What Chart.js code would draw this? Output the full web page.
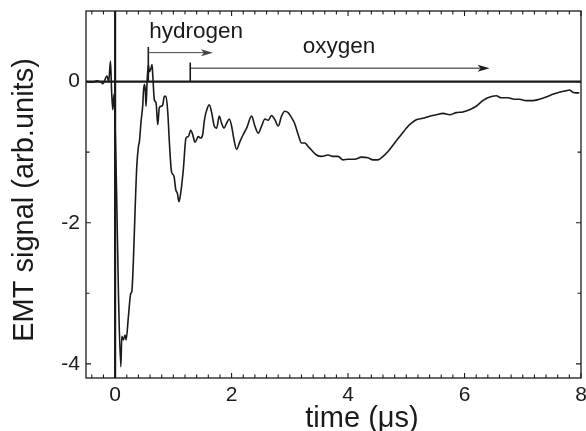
<!DOCTYPE html>
<html>
<head>
<meta charset="utf-8">
<script src="https://cdn.jsdelivr.net/npm/chart.js@4.4.1/dist/chart.umd.min.js"></script>
<style>
  html, body { margin: 0; padding: 0; background: #fff; }
  #wrap { width: 586px; height: 431px; }
</style>
</head>
<body>
<div id="wrap"><canvas id="emtChart"></canvas></div>
<script>
// EMT signal trace
const timeUs = [
  -0.50, -0.39, -0.31, -0.24, -0.21, -0.14, -0.11, -0.08, -0.06, -0.04, -0.02,
  0.026, 0.057, 0.098, 0.115, 0.142, 0.171, 0.189, 0.228, 0.269, 0.286, 0.314,
  0.343, 0.372, 0.40, 0.417, 0.446, 0.475, 0.485, 0.502, 0.519, 0.531, 0.549,
  0.571, 0.588, 0.617, 0.634, 0.646, 0.674, 0.703, 0.732, 0.759, 0.789, 0.818,
  0.845, 0.874, 0.903, 0.931, 0.96, 0.972, 1.011, 1.041, 1.068, 1.097, 1.126,
  1.171, 1.217, 1.257, 1.298, 1.332, 1.371, 1.428, 1.469, 1.504, 1.531, 1.56,
  1.617, 1.658, 1.702, 1.743, 1.788, 1.829, 1.869, 1.915, 1.96, 2.0, 2.04,
  2.086, 2.143, 2.2, 2.258, 2.344, 2.40, 2.457, 2.515, 2.572, 2.628, 2.686,
  2.743, 2.80, 2.858, 2.914, 2.971, 3.029, 3.086, 3.143, 3.20, 3.257, 3.314,
  3.372, 3.458, 3.544, 3.657, 3.743, 3.828, 3.914, 4.0, 4.114, 4.229, 4.343,
  4.428, 4.514, 4.60, 4.686, 4.80, 4.915, 5.0, 5.087, 5.172, 5.285, 5.40,
  5.515, 5.63, 5.743, 5.858, 5.971, 6.086, 6.20, 6.314, 6.40, 6.544, 6.63,
  6.743, 6.857, 6.943, 7.058, 7.171, 7.286, 7.40, 7.515, 7.629, 7.744, 7.80,
  7.857, 7.914, 7.97
];
const signal = [
  0.00, -0.01, 0.01, -0.01, -0.03, 0.08, 0.00, 0.29, -0.14, -0.40, -0.18,
  -1.6, -2.99, -4.04, -3.61, -3.66, -3.59, -3.66, -3.33, -3.00, -2.98, -2.53,
  -1.82, -1.20, -0.92, -0.85, -0.56, -0.33, -0.16, -0.04, -0.13, -0.35, 0.00,
  0.24, 0.14, 0.19, 0.24, 0.10, -0.26, -0.30, -0.61, -0.37, -0.35, -0.33,
  -0.21, -0.21, -0.42, -0.85, -1.22, -1.29, -1.34, -1.53, -1.58, -1.70, -1.58,
  -1.25, -0.80, -0.78, -0.69, -0.75, -0.86, -0.78, -0.80, -0.75, -0.56, -0.44,
  -0.33, -0.44, -0.63, -0.66, -0.49, -0.59, -0.66, -0.59, -0.53, -0.63, -0.82,
  -0.96, -0.85, -0.75, -0.66, -0.49, -0.63, -0.73, -0.63, -0.53, -0.55, -0.48,
  -0.54, -0.63, -0.49, -0.42, -0.44, -0.51, -0.60, -0.75, -0.87, -0.87, -0.92,
  -0.97, -1.04, -1.06, -1.04, -1.06, -1.06, -1.11, -1.10, -1.10, -1.07, -1.08,
  -1.11, -1.11, -1.06, -0.99, -0.87, -0.75, -0.66, -0.59, -0.54, -0.52, -0.49,
  -0.47, -0.45, -0.47, -0.44, -0.43, -0.40, -0.35, -0.27, -0.23, -0.20, -0.23,
  -0.23, -0.25, -0.25, -0.27, -0.27, -0.25, -0.22, -0.18, -0.15, -0.13, -0.12,
  -0.15, -0.16, -0.16
];
const xTickLabels = [0, 2, 4, 6, 8];
const yTickLabels = [0, -2, -4];

// arrow markers (time in us)
const hydrogenStart = 0.57, hydrogenEnd = 1.68;
const oxygenStart = 1.29, oxygenEnd = 6.43;

const FONT = "'Liberation Sans', Arial, Helvetica, sans-serif";

const points = timeUs.map((t, i) => ({ x: t, y: signal[i] }));

function arrowHead(ctx, x, y) {
  ctx.beginPath();
  ctx.moveTo(x, y);
  ctx.lineTo(x - 12, y - 3.5);
  ctx.lineTo(x - 9, y);
  ctx.lineTo(x - 12, y + 3.5);
  ctx.closePath();
  ctx.fill();
}

const frameAndMarks = {
  id: 'frameAndMarks',
  afterDatasetsDraw(chart) {
    const { ctx, chartArea: a, scales: { x, y } } = chart;
    ctx.save();
    ctx.strokeStyle = '#1a1a1a';
    ctx.fillStyle = '#1a1a1a';

    // zero lines
    ctx.lineWidth = 2.2;
    ctx.beginPath();
    ctx.moveTo(a.left, y.getPixelForValue(0));
    ctx.lineTo(a.right, y.getPixelForValue(0));
    ctx.moveTo(x.getPixelForValue(0), a.top);
    ctx.lineTo(x.getPixelForValue(0), a.bottom);
    ctx.stroke();

    // frame
    ctx.lineWidth = 1.3;
    ctx.strokeRect(a.left, a.top, a.right - a.left, a.bottom - a.top);

    // inward ticks, x every 0.2
    ctx.lineWidth = 1.1;
    ctx.beginPath();
    for (let i = -2; i <= 40; i++) {
      const px = x.getPixelForValue(i * 0.2);
      const len = i % 10 === 0 ? 5 : 3.5;
      ctx.moveTo(px, a.bottom); ctx.lineTo(px, a.bottom - len);
      ctx.moveTo(px, a.top); ctx.lineTo(px, a.top + len);
    }
    for (let v = -4; v <= 0; v++) {
      const py = y.getPixelForValue(v);
      const len = v % 2 === 0 ? 5 : 3.5;
      ctx.moveTo(a.left, py); ctx.lineTo(a.left + len, py);
      ctx.moveTo(a.right, py); ctx.lineTo(a.right - len, py);
    }
    ctx.stroke();

    // hydrogen marker
    const hx = x.getPixelForValue(hydrogenStart);
    const hEnd = x.getPixelForValue(hydrogenEnd);
    const y0 = y.getPixelForValue(0);
    ctx.lineWidth = 1.6;
    ctx.beginPath();
    ctx.moveTo(hx, y0); ctx.lineTo(hx, y.getPixelForValue(0.49));
    ctx.stroke();
    ctx.lineWidth = 1;
    ctx.strokeStyle = '#444';
    ctx.fillStyle = '#444';
    const hy = y.getPixelForValue(0.41);
    ctx.beginPath();
    ctx.moveTo(hx, hy); ctx.lineTo(hEnd - 9, hy);
    ctx.stroke();
    arrowHead(ctx, hEnd, hy);

    // oxygen marker
    const ox = x.getPixelForValue(oxygenStart);
    const oEnd = x.getPixelForValue(oxygenEnd);
    ctx.strokeStyle = '#1a1a1a';
    ctx.fillStyle = '#1a1a1a';
    ctx.lineWidth = 1.6;
    ctx.beginPath();
    ctx.moveTo(ox, y0); ctx.lineTo(ox, y.getPixelForValue(0.27));
    ctx.stroke();
    const oy = y.getPixelForValue(0.19);
    ctx.lineWidth = 1;
    ctx.beginPath();
    ctx.moveTo(ox, oy); ctx.lineTo(oEnd - 9, oy);
    ctx.stroke();
    arrowHead(ctx, oEnd, oy);

    // labels
    ctx.font = '22.5px ' + FONT;
    ctx.textBaseline = 'alphabetic';
    ctx.textAlign = 'left';
    ctx.fillText('hydrogen', hx + 1, y.getPixelForValue(0.62));
    ctx.fillText('oxygen', x.getPixelForValue(3.22), y.getPixelForValue(0.41));

    // axis titles
    ctx.font = '29px ' + FONT;
    ctx.textAlign = 'center';
    ctx.fillText('time (\u03bcs)', 362, 427);
    ctx.save();
    ctx.translate(33, 200);
    ctx.rotate(-Math.PI / 2);
    ctx.fillText('EMT signal (arb.units)', 0, 0);
    ctx.restore();
    ctx.restore();
  }
};

new Chart(document.getElementById('emtChart'), {
  type: 'line',
  data: {
    datasets: [{
      data: points,
      borderColor: '#1a1a1a',
      borderWidth: 1.6,
      pointRadius: 0,
      fill: false,
      cubicInterpolationMode: 'monotone'
    }]
  },
  options: {
    responsive: true,
    maintainAspectRatio: false,
    animation: false,
    layout: { padding: { left: 0, right: 5, top: 11, bottom: 0 } },
    plugins: { legend: { display: false }, tooltip: { enabled: false } },
    scales: {
      x: {
        type: 'linear',
        min: -0.5,
        max: 8,
        afterBuildTicks: s => { s.ticks = xTickLabels.map(v => ({ value: v })); },
        afterFit: s => { s.height = 53; s.paddingLeft = 0; s.paddingRight = 0; },
        grid: { display: false, drawTicks: false },
        border: { display: false },
        ticks: { color: '#1a1a1a', font: { family: FONT, size: 21 }, padding: 5, maxRotation: 0 }
      },
      y: {
        min: -4.2,
        max: 1,
        afterBuildTicks: s => { s.ticks = yTickLabels.map(v => ({ value: v })); },
        afterFit: s => { s.width = 86; s.paddingTop = 0; s.paddingBottom = 0; },
        grid: { display: false, drawTicks: false },
        border: { display: false },
        ticks: { color: '#1a1a1a', font: { family: FONT, size: 21 }, padding: 6 }
      }
    }
  },
  plugins: [frameAndMarks]
});
</script>
</body>
</html>
